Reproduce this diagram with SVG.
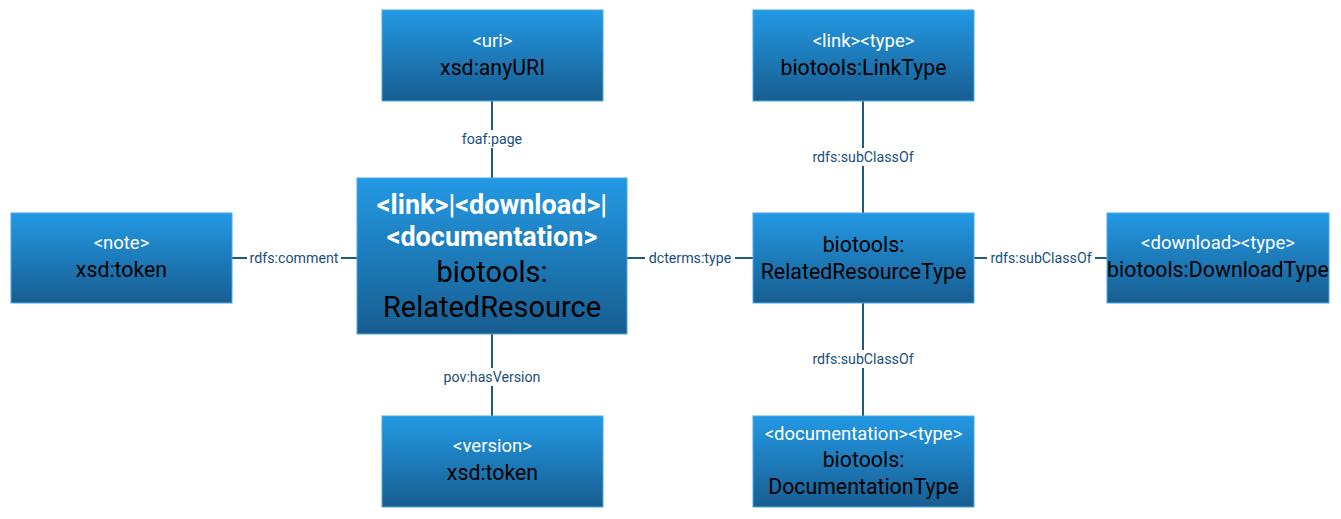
<svg xmlns="http://www.w3.org/2000/svg" width="1341" height="519" viewBox="0 0 1341 519">
<defs>
<linearGradient id="g" x1="0" y1="0" x2="0" y2="1">
<stop offset="0" stop-color="#2399e4"/>
<stop offset="1" stop-color="#175d90"/>
</linearGradient>
</defs>
<style>
.box{fill:url(#g);stroke:#4aa8e8;stroke-width:1}
.w{fill:#ffffff;font-family:Roboto,"Liberation Sans",sans-serif;font-size:18.5px;text-anchor:middle}
.b{fill:#000000;font-family:Roboto,"Liberation Sans",sans-serif;font-size:21.3px;text-anchor:middle}
.wb{fill:#ffffff;font-family:Roboto,"Liberation Sans",sans-serif;font-size:27px;font-weight:bold;text-anchor:middle}
.bb{fill:#000000;font-family:Roboto,"Liberation Sans",sans-serif;font-size:29px;text-anchor:middle}
.ln{stroke:#1f5a85;stroke-width:2;fill:none}
.lb{fill:#1a4f7a;font-family:Roboto,"Liberation Sans",sans-serif;font-size:14.2px;text-anchor:middle}
.bg{fill:#ffffff}
</style>
<rect width="1341" height="519" fill="#ffffff"/>
<g id="connectors">
<line class="ln" x1="492" y1="101" x2="492" y2="178"/>
<rect class="bg" x="458" y="130" width="68" height="18"/>
<text class="lb" x="492" y="144">foaf:page</text>
<line class="ln" x1="863" y1="101" x2="863" y2="213"/>
<rect class="bg" x="808" y="148" width="110" height="18"/>
<text class="lb" x="863" y="162">rdfs:subClassOf</text>
<line class="ln" x1="232" y1="258" x2="357" y2="258"/>
<rect class="bg" x="247" y="249" width="94" height="18"/>
<text class="lb" x="294" y="263">rdfs:comment</text>
<line class="ln" x1="627" y1="258" x2="753" y2="258"/>
<rect class="bg" x="645" y="249" width="90" height="18"/>
<text class="lb" x="690" y="263">dcterms:type</text>
<line class="ln" x1="974" y1="258" x2="1107" y2="258"/>
<rect class="bg" x="987" y="249" width="108" height="18"/>
<text class="lb" x="1041" y="263">rdfs:subClassOf</text>
<line class="ln" x1="492" y1="334" x2="492" y2="416"/>
<rect class="bg" x="438" y="368" width="108" height="18"/>
<text class="lb" x="492" y="382">pov:hasVersion</text>
<line class="ln" x1="863" y1="303" x2="863" y2="416"/>
<rect class="bg" x="808" y="350" width="110" height="18"/>
<text class="lb" x="863" y="364">rdfs:subClassOf</text>
</g>
<g id="uri">
<rect class="box" x="382" y="10" width="221" height="91"/>
<text class="w" x="492.5" y="47">&lt;uri&gt;</text>
<text class="b" x="492.5" y="75">xsd:anyURI</text>
</g>
<g id="linktype">
<rect class="box" x="753" y="10" width="221" height="91"/>
<text class="w" x="863.5" y="47">&lt;link&gt;&lt;type&gt;</text>
<text class="b" x="863.5" y="75">biotools:LinkType</text>
</g>
<g id="note">
<rect class="box" x="11" y="213" width="221" height="90"/>
<text class="w" x="121.5" y="249">&lt;note&gt;</text>
<text class="b" x="121.5" y="277">xsd:token</text>
</g>
<g id="related">
<rect class="box" x="357" y="178" width="270" height="156"/>
<text class="wb" x="492" y="214">&lt;link&gt;|&lt;download&gt;|</text>
<text class="wb" x="492" y="246">&lt;documentation&gt;</text>
<text class="bb" x="492" y="282">biotools:</text>
<text class="bb" x="492" y="317">RelatedResource</text>
</g>
<g id="relatedtype">
<rect class="box" x="753" y="213" width="221" height="90"/>
<text class="b" x="863.5" y="252">biotools:</text>
<text class="b" x="863.5" y="279">RelatedResourceType</text>
</g>
<g id="downloadtype">
<rect class="box" x="1107" y="213" width="222" height="90"/>
<text class="w" x="1218" y="249">&lt;download&gt;&lt;type&gt;</text>
<text class="b" x="1218" y="277">biotools:DownloadType</text>
</g>
<g id="version">
<rect class="box" x="382" y="416" width="221" height="91"/>
<text class="w" x="492.5" y="452">&lt;version&gt;</text>
<text class="b" x="492.5" y="480">xsd:token</text>
</g>
<g id="doctype">
<rect class="box" x="753" y="416" width="221" height="91"/>
<text class="w" x="863.5" y="440">&lt;documentation&gt;&lt;type&gt;</text>
<text class="b" x="863.5" y="467">biotools:</text>
<text class="b" x="863.5" y="494">DocumentationType</text>
</g>
</svg>
